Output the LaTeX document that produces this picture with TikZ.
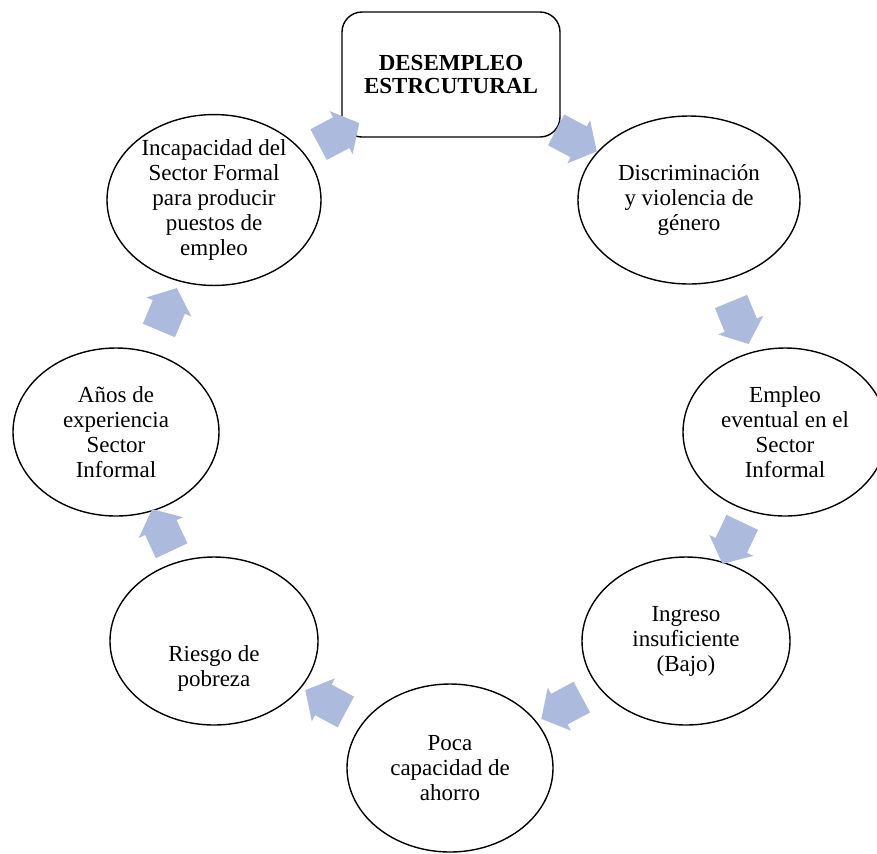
\documentclass[tikz,border=0pt]{standalone}
\usepackage{fontspec}
\setmainfont{Liberation Serif}
\usetikzlibrary{shapes.geometric}
\usetikzlibrary{shapes.arrows}
\usetikzlibrary{calc}

\definecolor{cyclearrow}{RGB}{172,186,222}

\tikzset{
    stagefont/.style={font=\fontsize{11.5}{12.5}\selectfont},
    stage/.style={ellipse, draw, line width=0.7pt, inner sep=0pt,
        minimum width=104pt, minimum height=84pt, align=center, stagefont},
    flowarrow/.style={single arrow, fill=cyclearrow, draw=none, inner xsep=0pt,
        inner ysep=8.5pt, minimum height=23pt, single arrow head extend=3.5pt,
        single arrow tip angle=100},
}

\begin{document}
\begin{tikzpicture}[x=0.5pt, y=-0.5pt]
    \useasboundingbox (0,0) rectangle (877,853);

    \draw (451, 74.5) node[rectangle, rounded corners=10pt, draw, line width=0.7pt,
        minimum width=109pt, minimum height=62.5pt, align=center,
        font=\bfseries\fontsize{11.5}{11.5}\selectfont] (s0) {DESEMPLEO\\ESTRCUTURAL};

    \draw (689, 200) node[stage, minimum width=111pt] (s1) {Discriminación\\y violencia de\\género};
    \draw (785, 432) node[stage, minimum width=102pt] (s2) {Empleo\\eventual en el\\Sector\\Informal};
    \draw (686, 641) node[stage] (s3) {Ingreso\\insuficiente\\(Bajo)};
    \draw (450, 768) node[stage, minimum width=103pt] (s4) {Poca\\capacidad de\\ahorro};
    \draw (214, 641) node[stage] (s5) {};
    \draw (214, 668) node[align=center, stagefont] (s5text) {Riesgo de\\pobreza};
    \draw (116, 432) node[stage, minimum width=103pt] (s6) {Años de\\experiencia\\Sector\\Informal};
    \draw (214, 200) node[stage, minimum width=107pt] (s7) {Incapacidad del\\Sector Formal\\para producir\\puestos de\\empleo};

    % block arrows between the stages, clockwise
    \foreach \from/\to in {s0/s1, s1/s2, s2/s3, s3/s4, s4/s5, s5/s6, s6/s7, s7/s0}{
        \path let \p1 = (\from), \p2 = (\to), \n1 = {atan2(\y2-\y1, \x2-\x1)} in
            ($(\from)!0.5!(\to)$) node[flowarrow, rotate=\n1] (\from\to) {};
    }

\end{tikzpicture}
\end{document}
